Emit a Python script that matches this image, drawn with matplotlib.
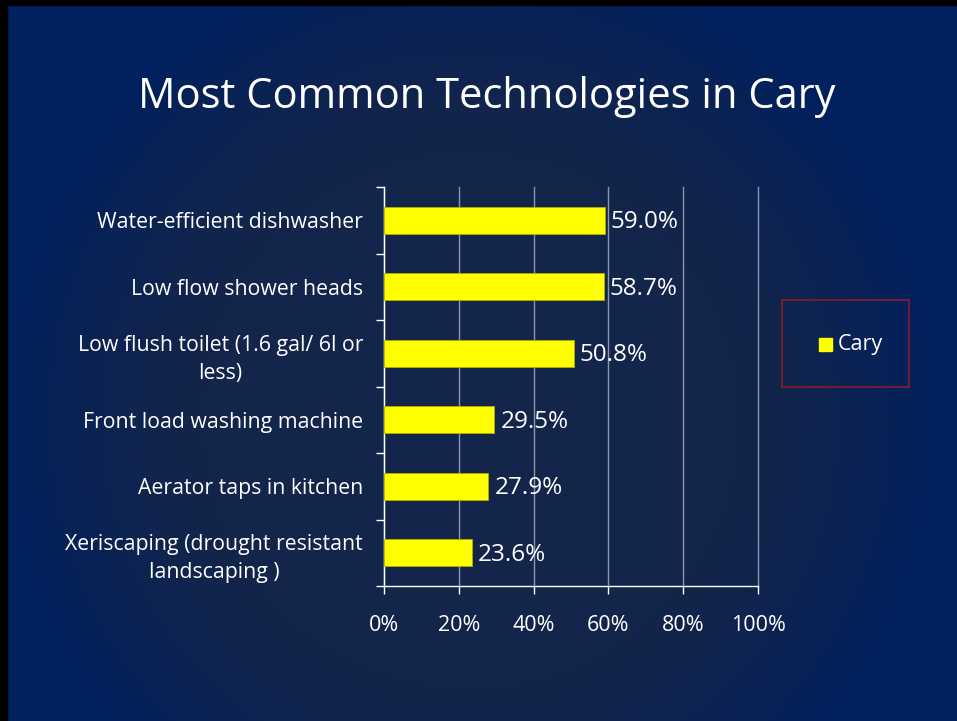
import numpy as np
import matplotlib
matplotlib.use("Agg")
import matplotlib.pyplot as plt
from matplotlib.patches import Rectangle

categories = ["Water-efficient dishwasher", "Low flow shower heads",
              "Low flush toilet (1.6 gal/ 6l or\nless)", "Front load washing machine",
              "Aerator taps in kitchen", "Xeriscaping (drought resistant\nlandscaping )"]
values = [59.0, 58.7, 50.8, 29.5, 27.9, 23.6]
xticks = [0, 20, 40, 60, 80, 100]
xticklabels = ["0%", "20%", "40%", "60%", "80%", "100%"]
series_name = "Cary"
title = "Most Common Technologies in Cary"

W, H = 957, 721
fig = plt.figure(figsize=(W / 100, H / 100), dpi=100)
plt.rcParams['font.family'] = ['Open Sans', 'DejaVu Sans']

# background radial gradient
bg = fig.add_axes([0, 0, 1, 1])
yy, xx = np.mgrid[0:H, 0:W]
cx, cy = 470, 420
r = np.sqrt((xx - cx) ** 2 + (yy - cy) ** 2)
t = np.clip(r / 480, 0, 1)
inner = np.array([0x13, 0x25, 0x4a]) / 255
outer = np.array([0x00, 0x20, 0x60]) / 255
tt = np.clip((t - 0.55) / 0.45, 0, 1) ** 1.5
img = inner[None, None, :] * (1 - tt[..., None]) + outer[None, None, :] * tt[..., None]
bg.imshow(img, extent=[0, W, H, 0], aspect='auto')
bg.add_patch(Rectangle((0, 0), W, 5, color='black'))
bg.add_patch(Rectangle((0, 0), 7, H, color='black'))
bg.set_xlim(0, W)
bg.set_ylim(H, 0)
bg.axis('off')

fig.text(487 / W, 1 - 97 / H, title, color='white', fontsize=30, ha='center', va='center')

# main axes: x 384..758, y 187..586
ax = fig.add_axes([384 / W, 1 - 586 / H, (758 - 384) / W, (586 - 187) / H])
ax.patch.set_alpha(0)
n = len(categories)
ypos = np.arange(n)[::-1]
ax.barh(ypos, values, height=0.4, color='#FFFF00', edgecolor='#b0b000', linewidth=0.6, zorder=3)
ax.set_xlim(0, 100)
ax.set_ylim(-0.5, n - 0.5)
ax.set_xticks(xticks)
ax.set_xticklabels(xticklabels)
ax.grid(axis='x', color='#8a96ab', linewidth=1, zorder=0)
for gl in ax.get_xgridlines():
    gl.set_clip_on(False)
ax.set_yticks(ypos)
ax.set_yticklabels(categories, multialignment='center', linespacing=1.45)
ax.set_yticks(np.arange(-0.5, n, 1), minor=True)
ax.tick_params(axis='y', which='major', length=0, pad=15, colors='white', labelsize=15.3)
ax.tick_params(axis='y', which='minor', length=6, color='white', width=1)
ax.tick_params(axis='x', length=6, color='white', width=1, colors='white', labelsize=15.5, pad=15)
for s in ['top', 'right']:
    ax.spines[s].set_visible(False)
for s in ['left', 'bottom']:
    ax.spines[s].set_color('white')
    ax.spines[s].set_linewidth(1)
for y, v in zip(ypos, values):
    ax.text(v + 1.6, y - 0.03, f"{v:.1f}%", color='white', fontsize=17.5, va='center', ha='left', zorder=4)

# legend box
lg = fig.add_axes([782 / W, 1 - 387 / H, (909 - 782) / W, (387 - 300) / H])
lg.set_xlim(0, 127)
lg.set_ylim(87, 0)
lg.patch.set_alpha(0)
lg.set_xticks([])
lg.set_yticks([])
for s in lg.spines.values():
    s.set_color('#8b1a2b')
    s.set_linewidth(1.2)
lg.add_patch(Rectangle((37, 38), 13, 13, color='#FFFF00'))
lg.text(56, 44.5, series_name, color='white', fontsize=15.5, va='center', ha='left')

fig.savefig("out.png", dpi=100)
